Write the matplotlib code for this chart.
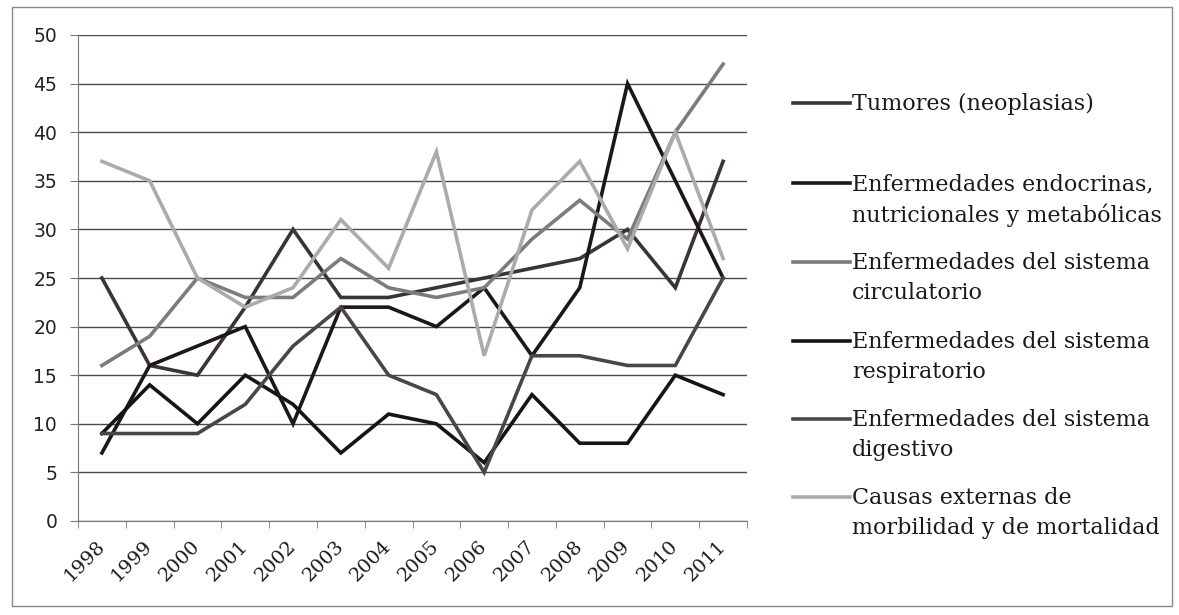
import numpy as np
import matplotlib.pyplot as plt
from matplotlib.lines import Line2D
from matplotlib.patches import Rectangle

years = ['1998', '1999', '2000', '2001', '2002', '2003', '2004',
         '2005', '2006', '2007', '2008', '2009', '2010', '2011']

tumores = [25, 16, 15, 22, 30, 23, 23, 24, 25, 26, 27, 30, 24, 37]
endocrinas = [7, 16, 18, 20, 10, 22, 22, 20, 24, 17, 24, 45, 35, 25]
circulatorio = [16, 19, 25, 23, 23, 27, 24, 23, 24, 29, 33, 29, 40, 47]
respiratorio = [9, 14, 10, 15, 12, 7, 11, 10, 6, 13, 8, 8, 15, 13]
digestivo = [9, 9, 9, 12, 18, 22, 15, 13, 5, 17, 17, 16, 16, 25]
externas = [37, 35, 25, 22, 24, 31, 26, 38, 17, 32, 37, 28, 40, 27]

labels = ['Tumores (neoplasias)',
          'Enfermedades endocrinas,\nnutricionales y metabólicas',
          'Enfermedades del sistema\ncirculatorio',
          'Enfermedades del sistema\nrespiratorio',
          'Enfermedades del sistema\ndigestivo',
          'Causas externas de\nmorbilidad y de mortalidad']
colors = ['#3a3436', '#1e1618', '#7c7c7c', '#171415', '#4a4647', '#ababab']
series = [tumores, endocrinas, circulatorio, respiratorio, digestivo, externas]

W, H = 1179, 615
fig = plt.figure(figsize=(W/100, H/100), dpi=100)
ax = fig.add_axes([78/W, 1-521/H, (747-78)/W, (521-35)/H])

x = np.arange(len(years))
for s, c in zip(series, colors):
    ax.plot(x, s, color=c, lw=2.6, solid_joinstyle='miter')

ax.set_xlim(-0.5, len(years)-0.5)
ax.set_ylim(0, 50)
ax.set_yticks(np.arange(0, 51, 5))
ax.yaxis.grid(True, color='#4a4a4a', lw=1.0)
ax.set_axisbelow(True)
for sp in ['top', 'right']:
    ax.spines[sp].set_visible(False)
ax.spines['left'].set_color('#777777')
ax.spines['bottom'].set_color('#777777')
ax.tick_params(axis='y', length=6, color='#777777', pad=9, labelsize=13.5,
               labelcolor='#222222')

ax.set_xticks(x)
ax.set_xticks(np.arange(-0.5, len(years), 1), minor=True)
ax.tick_params(axis='x', which='major', length=0, pad=16)
ax.tick_params(axis='x', which='minor', length=5, color='#777777')
ax.set_xticklabels(years, rotation=45, ha='right', va='center',
                   rotation_mode='anchor', family='DejaVu Serif',
                   fontsize=14, color='#1a1a1a')

# legend drawn by hand so the key sits beside the first text line
ys = [103, 183, 262, 341, 419, 497]
for lab, c, yy in zip(labels, colors, ys):
    fy = 1 - yy/H
    fig.add_artist(Line2D([793/W, 850/W], [fy, fy], color=c, lw=2.6,
                          transform=fig.transFigure))
    fig.text(852/W, 1 - (yy - 10)/H, lab, va='top', ha='left',
             family='DejaVu Serif', fontsize=16, color='#1a1a1a',
             linespacing=1.45)

fig.add_artist(Rectangle((12/W, 1-606/H), (1172-12)/W, (606-7)/H,
                         transform=fig.transFigure, fill=False,
                         edgecolor='#888888', lw=1))

fig.savefig('out.png', dpi=100)
